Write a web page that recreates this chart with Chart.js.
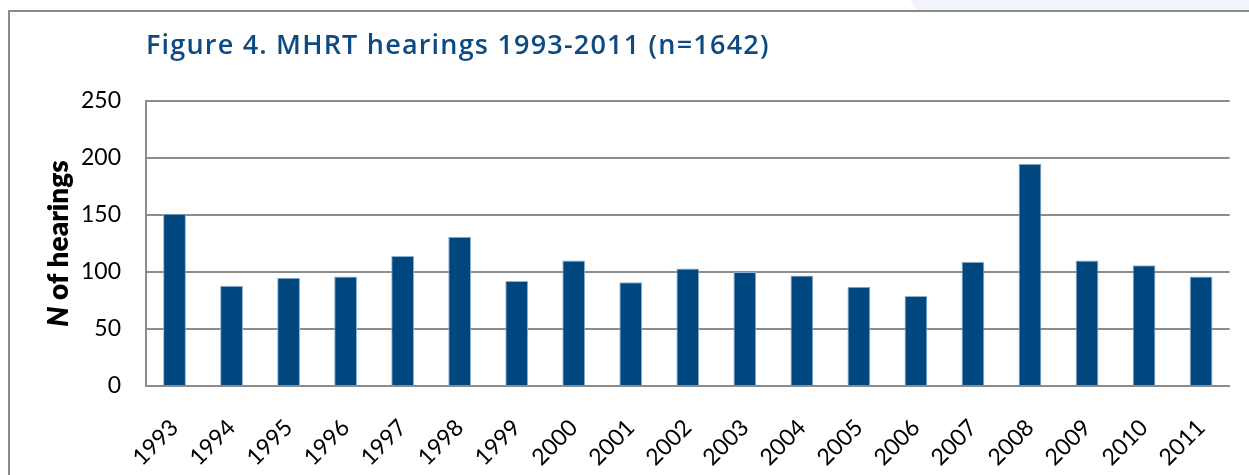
<!DOCTYPE html>
<html>
<head>
<meta charset="utf-8">
<script src="https://cdn.jsdelivr.net/npm/chart.js@4.4.1/dist/chart.umd.min.js"></script>
<style>
  html, body { margin: 0; padding: 0; background: #ffffff; }
  #wrap { position: relative; width: 1249px; height: 475px; overflow: hidden; }
  canvas { position: absolute; left: 0; top: 0; }
</style>
</head>
<body>
<div id="wrap"><canvas id="c" width="1249" height="475"></canvas></div>
<script>
const chartTitle = 'Figure 4. MHRT hearings 1993-2011 (n=1642)';
const axisTitleItalic = 'N';
const axisTitleRest = ' of hearings';
const years = ['1993','1994','1995','1996','1997','1998','1999','2000','2001','2002','2003','2004','2005','2006','2007','2008','2009','2010','2011'];
const hearings = [151, 88, 95, 96, 114, 131, 92, 110, 91, 103, 100, 97, 87, 79, 109, 195, 110, 106, 96];
const yTickValues = [0, 50, 100, 150, 200, 250];

const GRID = '#8c8c8c';
const BAR = '#01477f';
const TITLE_COLOR = '#0d4a82';

const decorPlugin = {
  id: 'decor',
  beforeDraw(chart) {
    const ctx = chart.ctx;
    ctx.save();
    ctx.fillStyle = '#f1f5fa';
    ctx.beginPath();
    ctx.moveTo(910, 0);
    ctx.lineTo(1249, 0);
    ctx.lineTo(1249, 10);
    ctx.lineTo(917, 10);
    ctx.closePath();
    ctx.fill();
    ctx.strokeStyle = '#8a8a8a';
    ctx.lineWidth = 2;
    ctx.beginPath();
    ctx.moveTo(9, 475);
    ctx.lineTo(9, 11);
    ctx.lineTo(1249, 11);
    ctx.stroke();
    ctx.restore();
  },
  afterDraw(chart) {
    const ctx = chart.ctx;
    const area = chart.chartArea;
    ctx.save();
    ctx.fillStyle = TITLE_COLOR;
    ctx.font = '600 27px "Open Sans"';
    if ('letterSpacing' in ctx) ctx.letterSpacing = '1.2px';
    ctx.textBaseline = 'alphabetic';
    ctx.textAlign = 'left';
    ctx.fillText(chartTitle, area.left, 54);
    if ('letterSpacing' in ctx) ctx.letterSpacing = '0px';
    const cy = (area.top + area.bottom) / 2;
    ctx.translate(68, cy);
    ctx.rotate(-Math.PI / 2);
    ctx.fillStyle = '#000000';
    const fItal = 'italic 800 28px Lato';
    const fBold = '800 28px Lato';
    ctx.font = fItal;
    const w1 = ctx.measureText(axisTitleItalic).width;
    ctx.font = fBold;
    const w2 = ctx.measureText(axisTitleRest).width;
    const start = -(w1 + w2) / 2;
    ctx.font = fItal;
    ctx.fillText(axisTitleItalic, start, 0);
    ctx.font = fBold;
    ctx.fillText(axisTitleRest, start + w1, 0);
    ctx.restore();
  }
};

new Chart(document.getElementById('c'), {
  type: 'bar',
  data: {
    labels: years,
    datasets: [{
      data: hearings,
      backgroundColor: BAR,
      borderColor: '#8fb0cf',
      borderWidth: 1,
      categoryPercentage: 1,
      barPercentage: 0.4
    }]
  },
  plugins: [decorPlugin],
  options: {
    responsive: false,
    animation: false,
    devicePixelRatio: 1,
    layout: { padding: { top: 101, right: 15, left: 0, bottom: 0 } },
    plugins: {
      legend: { display: false },
      title: { display: false },
      tooltip: { enabled: false }
    },
    scales: {
      y: {
        min: 0,
        max: 250,
        afterBuildTicks: (s) => { s.ticks = yTickValues.map(v => ({ value: v })); },
        afterFit: (s) => { s.width = 146; },
        ticks: {
          color: '#000000',
          font: { family: 'Lato', size: 23 },
          padding: 25
        },
        grid: { color: GRID, lineWidth: 2, drawTicks: false },
        border: { display: true, color: GRID, width: 2 }
      },
      x: {
        afterFit: (s) => { s.height = 89; },
        grid: { display: false, drawTicks: false },
        border: { display: true, color: GRID, width: 2 },
        ticks: {
          color: '#000000',
          font: { family: 'Lato', size: 23 },
          maxRotation: 45,
          minRotation: 45,
          padding: 28,
          autoSkip: false
        }
      }
    }
  }
});
</script>
</body>
</html>
